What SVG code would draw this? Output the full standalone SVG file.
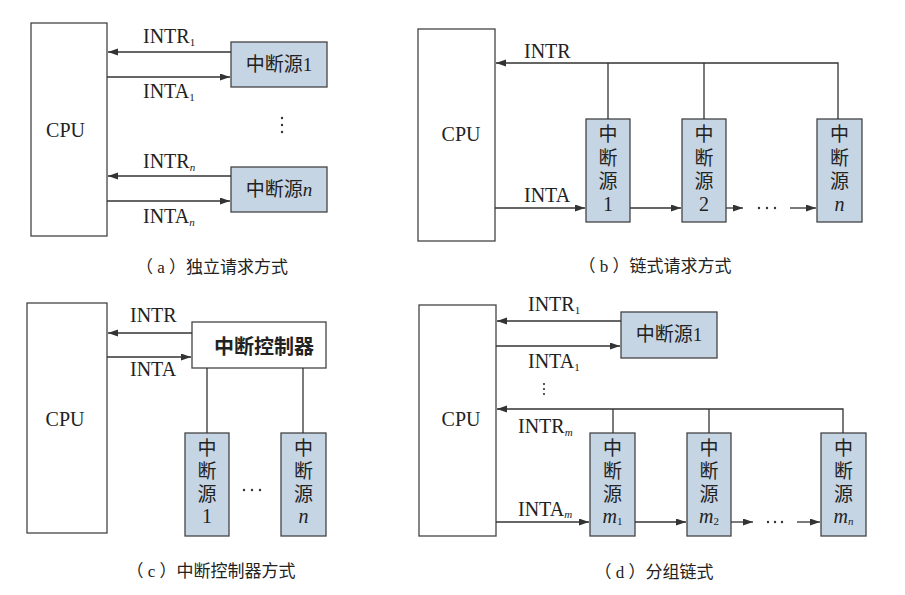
<svg xmlns="http://www.w3.org/2000/svg" width="905" height="595" viewBox="0 0 905 595">
<style>
  .box{fill:#fff;stroke:#444;stroke-width:1.3}
  .src{fill:#c6d5e4;stroke:#444;stroke-width:1.3}
  .ln{fill:none;stroke:#333;stroke-width:1.3}
  .ar{fill:none;stroke:#333;stroke-width:1.3;marker-end:url(#ah)}
  .lat{font-family:"Liberation Serif","Times New Roman",serif;font-size:20px;fill:#222}
  .sub{font-size:11px}
  .it{font-style:italic}
  .cjk{font-family:"Liberation Serif","Noto Sans CJK SC",serif;font-size:19px;fill:#222}
  .cap{font-family:"Liberation Serif","Noto Sans CJK SC",serif;font-size:17px;fill:#222;text-anchor:middle}
  .mid{text-anchor:middle}
  .dot{fill:#333}
</style>
<defs>
  <marker id="ah" markerUnits="userSpaceOnUse" markerWidth="11" markerHeight="8" refX="10" refY="3.5" orient="auto">
    <path d="M0,0 L10,3.5 L0,7 z" fill="#333"/>
  </marker>
</defs>

<!-- Panel (a) -->
<g id="a-cpu"><rect class="box" x="31" y="23" width="76" height="213"/><text class="lat mid" x="65.5" y="137">CPU</text></g>
<g id="a-src1"><rect class="src" x="231" y="42" width="96" height="45"/><text class="cjk mid" x="279" y="71">中断源1</text></g>
<g id="a-srcn"><rect class="src" x="231" y="167" width="96" height="45"/><text class="cjk mid" x="279" y="196">中断源<tspan class="it">n</tspan></text></g>
<g id="a-connectors">
  <line class="ar" x1="231" y1="52" x2="108" y2="52"/>
  <line class="ar" x1="107" y1="77" x2="230" y2="77"/>
  <line class="ar" x1="231" y1="176" x2="108" y2="176"/>
  <line class="ar" x1="107" y1="201" x2="230" y2="201"/>
  <text class="lat" x="143" y="43">INTR<tspan class="sub" dy="3">1</tspan></text>
  <text class="lat" x="143" y="98">INTA<tspan class="sub" dy="3">1</tspan></text>
  <text class="lat" x="143" y="168">INTR<tspan class="sub it" dy="3">n</tspan></text>
  <text class="lat" x="143" y="223">INTA<tspan class="sub it" dy="3">n</tspan></text>
  <circle class="dot" cx="282" cy="118" r="1.2"/><circle class="dot" cx="282" cy="125" r="1.2"/><circle class="dot" cx="282" cy="132" r="1.2"/>
</g>
<text class="cap" x="212" y="273">（ a ）独立请求方式</text>

<!-- Panel (b) -->
<g id="b-cpu"><rect class="box" x="418" y="29" width="77" height="212"/><text class="lat mid" x="461" y="141">CPU</text></g>
<g id="b-src1"><rect class="src" x="586" y="119" width="44" height="103"/>
  <text class="cjk mid" x="608" y="141">中</text><text class="cjk mid" x="608" y="165">断</text><text class="cjk mid" x="608" y="188">源</text><text class="lat mid" x="608" y="211">1</text></g>
<g id="b-src2"><rect class="src" x="682" y="119" width="44" height="103"/>
  <text class="cjk mid" x="704" y="141">中</text><text class="cjk mid" x="704" y="165">断</text><text class="cjk mid" x="704" y="188">源</text><text class="lat mid" x="704" y="211">2</text></g>
<g id="b-srcn"><rect class="src" x="817" y="119" width="45" height="103"/>
  <text class="cjk mid" x="839.5" y="141">中</text><text class="cjk mid" x="839.5" y="165">断</text><text class="cjk mid" x="839.5" y="188">源</text><text class="lat mid it" x="839.5" y="211">n</text></g>
<g id="b-connectors">
  <polyline class="ar" points="838,119 838,63 496,63"/>
  <line class="ln" x1="608" y1="63" x2="608" y2="119"/>
  <line class="ln" x1="704" y1="63" x2="704" y2="119"/>
  <line class="ar" x1="495" y1="208" x2="585" y2="208"/>
  <line class="ar" x1="630" y1="208" x2="681" y2="208"/>
  <line class="ar" x1="726" y1="208" x2="743" y2="208"/>
  <circle class="dot" cx="759" cy="208" r="1.2"/><circle class="dot" cx="767" cy="208" r="1.2"/><circle class="dot" cx="775" cy="208" r="1.2"/>
  <line class="ar" x1="790" y1="208" x2="816" y2="208"/>
  <text class="lat" x="524" y="58">INTR</text>
  <text class="lat" x="524" y="202">INTA</text>
</g>
<text class="cap" x="655" y="272">（ b ）链式请求方式</text>

<!-- Panel (c) -->
<g id="c-cpu"><rect class="box" x="27" y="303" width="80" height="230"/><text class="lat mid" x="65" y="426">CPU</text></g>
<g id="c-ctrl"><rect class="box" x="192" y="322" width="134" height="46"/><text x="264" y="354" text-anchor="middle" font-family="'Noto Sans CJK SC',sans-serif" font-weight="bold" font-size="20" fill="#222">中断控制器</text></g>
<g id="c-src1"><rect class="src" x="185" y="433" width="44" height="103"/>
  <text class="cjk mid" x="207" y="455">中</text><text class="cjk mid" x="207" y="478">断</text><text class="cjk mid" x="207" y="501">源</text><text class="lat mid" x="207" y="523">1</text></g>
<g id="c-srcn"><rect class="src" x="281" y="433" width="45" height="103"/>
  <text class="cjk mid" x="303.5" y="455">中</text><text class="cjk mid" x="303.5" y="478">断</text><text class="cjk mid" x="303.5" y="501">源</text><text class="lat mid it" x="303.5" y="523">n</text></g>
<g id="c-connectors">
  <line class="ar" x1="192" y1="333" x2="108" y2="333"/>
  <line class="ar" x1="107" y1="357" x2="191" y2="357"/>
  <line class="ln" x1="207" y1="368" x2="207" y2="433"/>
  <line class="ln" x1="303" y1="368" x2="303" y2="433"/>
  <text class="lat" x="130" y="322">INTR</text>
  <text class="lat" x="130" y="376">INTA</text>
  <circle class="dot" cx="244" cy="490" r="1.2"/><circle class="dot" cx="252" cy="490" r="1.2"/><circle class="dot" cx="260" cy="490" r="1.2"/>
</g>
<text class="cap" x="211" y="577">（ c ）中断控制器方式</text>

<!-- Panel (d) -->
<g id="d-cpu"><rect class="box" x="419" y="305" width="77" height="231"/><text class="lat mid" x="461" y="426">CPU</text></g>
<g id="d-src1"><rect class="src" x="621" y="312" width="96" height="46"/><text class="cjk mid" x="669" y="341">中断源1</text></g>
<g id="d-srcm1"><rect class="src" x="590" y="433" width="45" height="103"/>
  <text class="cjk mid" x="612.5" y="455">中</text><text class="cjk mid" x="612.5" y="478">断</text><text class="cjk mid" x="612.5" y="501">源</text><text class="lat mid" x="612.5" y="523"><tspan class="it">m</tspan><tspan class="sub" dy="2">1</tspan></text></g>
<g id="d-srcm2"><rect class="src" x="687" y="433" width="44" height="103"/>
  <text class="cjk mid" x="709" y="455">中</text><text class="cjk mid" x="709" y="478">断</text><text class="cjk mid" x="709" y="501">源</text><text class="lat mid" x="709" y="523"><tspan class="it">m</tspan><tspan class="sub" dy="2">2</tspan></text></g>
<g id="d-srcmn"><rect class="src" x="821" y="433" width="45" height="103"/>
  <text class="cjk mid" x="843.5" y="455">中</text><text class="cjk mid" x="843.5" y="478">断</text><text class="cjk mid" x="843.5" y="501">源</text><text class="lat mid" x="843.5" y="523"><tspan class="it">m</tspan><tspan class="sub it" dy="2">n</tspan></text></g>
<g id="d-connectors">
  <line class="ar" x1="621" y1="321" x2="497" y2="321"/>
  <line class="ar" x1="496" y1="346" x2="620" y2="346"/>
  <polyline class="ar" points="843,433 843,409 497,409"/>
  <line class="ln" x1="613" y1="409" x2="613" y2="433"/>
  <line class="ln" x1="709" y1="409" x2="709" y2="433"/>
  <line class="ar" x1="496" y1="522" x2="589" y2="522"/>
  <line class="ar" x1="635" y1="522" x2="686" y2="522"/>
  <line class="ar" x1="731" y1="522" x2="753" y2="522"/>
  <circle class="dot" cx="768" cy="522" r="1.2"/><circle class="dot" cx="775" cy="522" r="1.2"/><circle class="dot" cx="782" cy="522" r="1.2"/>
  <line class="ar" x1="797" y1="522" x2="820" y2="522"/>
  <text class="lat" x="528" y="311">INTR<tspan class="sub" dy="3">1</tspan></text>
  <text class="lat" x="528" y="368">INTA<tspan class="sub" dy="3">1</tspan></text>
  <circle class="dot" cx="544" cy="384" r="1.1"/><circle class="dot" cx="544" cy="389" r="1.1"/><circle class="dot" cx="544" cy="394" r="1.1"/>
  <text class="lat" x="518" y="433">INTR<tspan class="sub it" dy="3">m</tspan></text>
  <text class="lat" x="518" y="516">INTA<tspan class="sub it" dy="2">m</tspan></text>
</g>
<text class="cap" x="654" y="578">（ d ）分组链式</text>
</svg>
